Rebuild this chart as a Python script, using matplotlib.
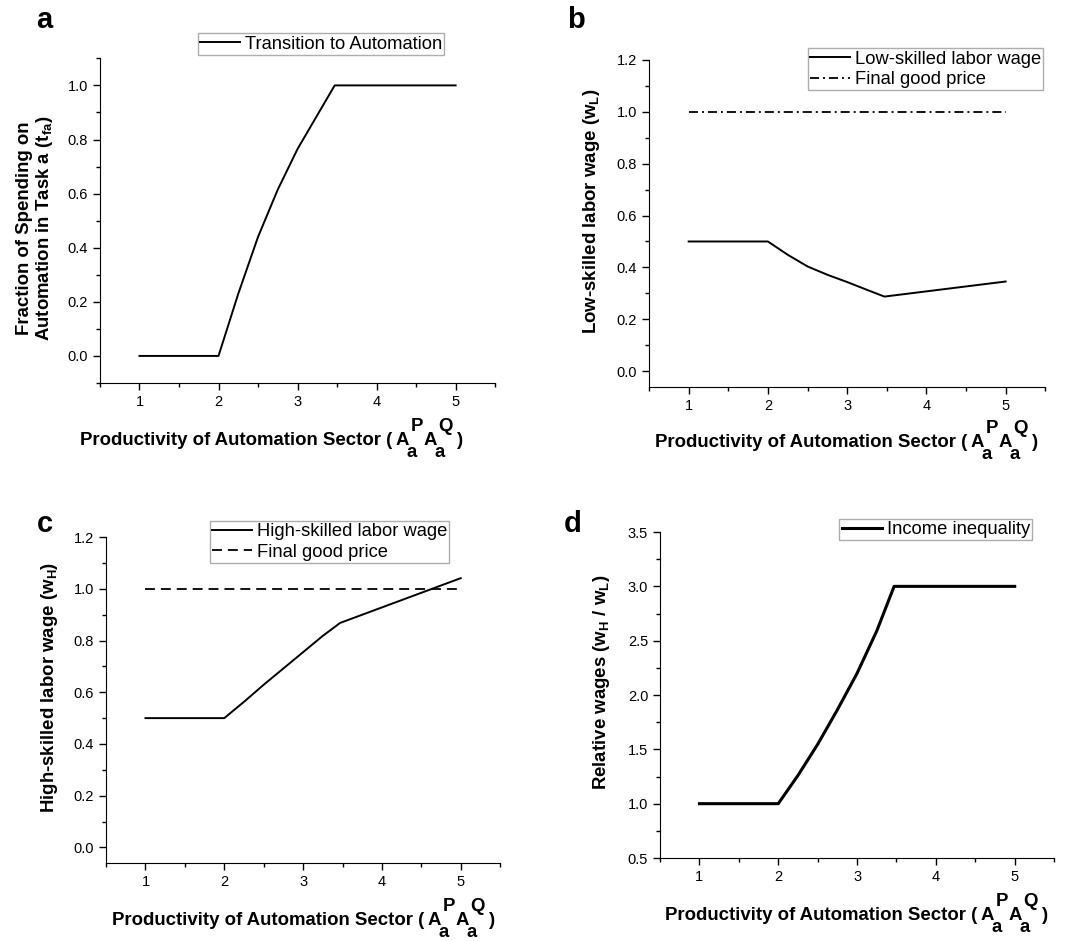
import numpy as np
import matplotlib
matplotlib.use("Agg")
import matplotlib.pyplot as plt
from matplotlib.ticker import MultipleLocator, FormatStrFormatter

plt.rcParams['font.family'] = ['Liberation Sans', 'DejaVu Sans']
plt.rcParams['mathtext.fontset'] = 'custom'
plt.rcParams['mathtext.rm'] = 'Liberation Sans'
plt.rcParams['mathtext.bf'] = 'Liberation Sans:bold'
plt.rcParams['mathtext.it'] = 'Liberation Sans:italic'

W, H = 1068, 941

# productivity of automation sector
x_prod = [1.0, 2.0, 2.25, 2.5, 2.75, 3.0, 3.25, 3.47, 5.0]

# a: fraction of spending on automation
frac_auto = [0.0, 0.0, 0.23, 0.44, 0.615, 0.765, 0.89, 1.0, 1.0]
# b: low-skilled wage
wage_low = [0.5, 0.5, 0.449, 0.404, 0.372, 0.344, 0.314, 0.288, 0.346]
# c: high-skilled wage
wage_high = [0.5, 0.5, 0.563, 0.629, 0.692, 0.755, 0.818, 0.868, 1.041]
# d: relative wages
rel_wage = [1.0, 1.0, 1.26, 1.546, 1.864, 2.2, 2.59, 3.0, 3.0]

price_x = [1.0, 5.0]
price_y = [1.0, 1.0]

LAB_FS = 13.4


def style_axis(ax, ymajor, yminor):
    for s in ['top', 'right']:
        ax.spines[s].set_visible(False)
    ax.set_xlim(0.5, 5.5)
    ax.xaxis.set_major_locator(MultipleLocator(1))
    ax.xaxis.set_minor_locator(MultipleLocator(0.5))
    ax.yaxis.set_major_locator(MultipleLocator(ymajor))
    ax.yaxis.set_minor_locator(MultipleLocator(yminor))
    ax.yaxis.set_major_formatter(FormatStrFormatter('%.1f'))
    ax.tick_params(which='major', direction='out', length=5, width=1, labelsize=10.5, colors='black')
    ax.tick_params(which='minor', direction='out', length=3, width=1)


def legend(ax, anchor):
    leg = ax.legend(loc='upper right', bbox_to_anchor=anchor, fontsize=13.2, frameon=True,
                    fancybox=False, edgecolor='#999999', handlelength=2.2, handletextpad=0.25,
                    borderpad=0.12, borderaxespad=0, labelspacing=0.18)
    leg.get_frame().set_linewidth(1)


def xlabel(fig, x0, y0):
    # "Productivity of Automation Sector ( A_a^P A_a^Q )" laid out piece by piece
    r = fig.canvas.get_renderer()

    def put(s, x, y):
        t = fig.text(x / W, 1 - y / H, s, fontsize=LAB_FS, fontweight='bold',
                     ha='left', va='baseline')
        return t.get_window_extent(r).width

    cur = x0 + put("Productivity of Automation Sector (", x0, y0) + 3
    for sup in ['P', 'Q']:
        cur += put('A', cur, y0) - 2
        wa = put('a', cur, y0 + 12)
        wp = put(sup, cur + 4, y0 - 14)
        cur += max(wa, wp + 4)
    put(')', cur + 4, y0)


fig = plt.figure(figsize=(W / 100, H / 100), dpi=100)

ax_a = fig.add_axes([0.0936, 0.593, 0.370, 0.345])
ax_b = fig.add_axes([0.6077, 0.5887, 0.371, 0.348])
ax_c = fig.add_axes([0.0993, 0.0829, 0.369, 0.3464])
ax_d = fig.add_axes([0.618, 0.0882, 0.369, 0.3464])

# a
ax_a.plot(x_prod, frac_auto, color='black', lw=1.4, label='Transition to Automation')
style_axis(ax_a, 0.2, 0.1)
ax_a.set_ylim(-0.1, 1.1)
ax_a.set_ylabel("Fraction of Spending on\n" + r"Automation in Task a (t$_{\mathbf{fa}}$)",
                fontsize=LAB_FS, fontweight='bold', linespacing=1.05)
ax_a.yaxis.set_label_coords(-0.114, 0.477)
legend(ax_a, (0.871, 1.077))

# b
ax_b.plot(x_prod, wage_low, color='black', lw=1.4, label='Low-skilled labor wage')
ax_b.plot(price_x, price_y, color='black', lw=1.3, ls=(0, (5, 2.2, 1.1, 2.2)), label='Final good price')
style_axis(ax_b, 0.2, 0.1)
ax_b.set_ylim(-0.06, 1.2)
ax_b.set_ylabel(r"Low-skilled labor wage (w$_{\mathbf{L}}$)", fontsize=LAB_FS, fontweight='bold')
ax_b.yaxis.set_label_coords(-0.119, 0.537)
legend(ax_b, (0.995, 1.034))

# c
ax_c.plot(x_prod, wage_high, color='black', lw=1.4, label='High-skilled labor wage')
ax_c.plot(price_x, price_y, color='black', lw=1.3, ls=(0, (5.5, 3.3)), label='Final good price')
style_axis(ax_c, 0.2, 0.1)
ax_c.set_ylim(-0.06, 1.2)
ax_c.set_ylabel(r"High-skilled labor wage (w$_{\mathbf{H}}$)", fontsize=LAB_FS, fontweight='bold')
ax_c.yaxis.set_label_coords(-0.117, 0.54)
legend(ax_c, (0.871, 1.049))

# d
ax_d.plot(x_prod, rel_wage, color='black', lw=2.2, label='Income inequality')
style_axis(ax_d, 0.5, 0.25)
ax_d.set_ylim(0.5, 3.5)
ax_d.set_ylabel(r"Relative wages (w$_{\mathbf{H}}$ / w$_{\mathbf{L}}$)", fontsize=LAB_FS, fontweight='bold')
ax_d.yaxis.set_label_coords(-0.122, 0.54)
legend(ax_d, (0.944, 1.04))

for x0, y0 in [(80, 445), (655, 447), (112, 925), (665, 920)]:
    xlabel(fig, x0, y0)

for lab, (px, py) in zip('abcd', [(36, 28), (567, 28), (37, 532), (564, 532)]):
    fig.text(px / W, 1 - py / H, lab, fontsize=21, fontweight='bold', ha='left', va='baseline')

fig.savefig('out.png', dpi=100)
